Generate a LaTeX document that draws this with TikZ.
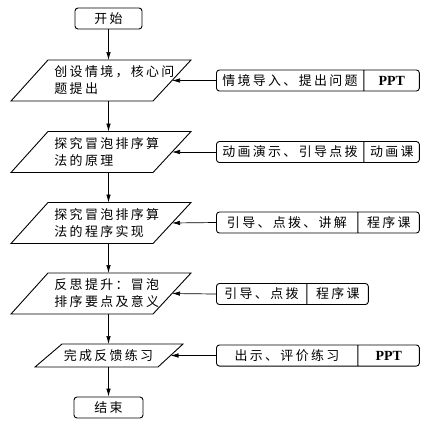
\documentclass[tikz,border=0pt]{standalone}
\usepackage{fontspec}
\setmainfont{Liberation Serif}
\newfontfamily\cjk[LetterSpace=18]{Noto Sans CJK SC}
\newcommand{\pptfont}{\rmfamily\bfseries\fontsize{14}{17}\selectfont}
\usetikzlibrary{arrows.meta,shapes.multipart}

\begin{document}
\begin{tikzpicture}[x=1bp,y=-1bp,line width=0.9bp,
  term/.style={draw,rounded corners=3bp,minimum width=67bp,minimum height=21bp,inner sep=0pt,font=\cjk\fontsize{13}{17}\selectfont},
  txt/.style={inner sep=0pt,align=left,font=\cjk\fontsize{13}{17}\selectfont},
  res/.style={draw,rounded corners=3bp,rectangle split,rectangle split horizontal,rectangle split parts=2,inner xsep=0pt,inner ysep=4.5bp,anchor=west,font=\cjk\fontsize{13}{17}\selectfont},
  arr/.style={-{Latex[length=8bp,width=4.5bp]},line width=0.7bp}]
  \useasboundingbox (0,0) rectangle (435,432);
  % terminals
  \node[term] (start) at (108.5,18.5) {开始};
  \node[term,minimum width=69bp] (end) at (108.5,407.5) {结束};
  % process steps (parallelograms)
  \foreach \n/\y in {1/80.5,2/152,3/223,4/293.5} {
    \draw (11,\y+20.5) -- (48,\y-20.5) -- (191,\y-20.5) -- (153,\y+20.5) -- cycle;
    \coordinate (p\n n) at (108.5,\y-20.5);
    \coordinate (p\n s) at (108.5,\y+20.5);
    \coordinate (p\n e) at (172,\y);
  }
  \draw (35,367) -- (62,344) -- (183,344) -- (158,367) -- cycle;
  \coordinate (p5n) at (108.5,344);
  \coordinate (p5s) at (108.5,367);
  \coordinate (p5e) at (170.5,355.5);
  \node[txt,anchor=west] (t1) at (54,80.5) {创设情境，核心问\\题提出};
  \node[txt,anchor=west] (t2) at (54,152) {探究冒泡排序算\\法的原理};
  \node[txt,anchor=west] (t3) at (54,223) {探究冒泡排序算\\法的程序实现};
  \node[txt,anchor=west] (t4) at (54,293.5) {反思提升：冒泡\\排序要点及意义};
  \node[txt] (t5) at (108.5,355.5) {完成反馈练习};
  % resources
  \node[res] (b1) at (216,80.5) {\makebox[147bp]{情境导入、提出问题}\nodepart{two}\makebox[55bp]{\pptfont PPT}};
  \node[res] (b2) at (216,152) {\makebox[147bp]{动画演示、引导点拨}\nodepart{two}\makebox[55bp]{动画课}};
  \node[res] (b3) at (216,222.5) {\makebox[141bp]{引导、点拨、讲解}\nodepart{two}\makebox[61bp]{程序课}};
  \node[res] (b4) at (216,294) {\makebox[90bp]{引导、点拨}\nodepart{two}\makebox[61bp]{程序课}};
  \node[res] (b5) at (216,355.5) {\makebox[141bp]{出示、评价练习}\nodepart{two}\makebox[61bp]{\pptfont PPT}};
  % connectors
  \draw[arr] (start) -- (p1n);
  \foreach \i/\j in {1/2,2/3,3/4,4/5}
    \draw[arr] (p\i s) -- (p\j n);
  \draw[arr] (p5s) -- (end);
  \foreach \i in {1,...,5}
    \draw[arr] (b\i.west) -- (p\i e);
\end{tikzpicture}
\end{document}
